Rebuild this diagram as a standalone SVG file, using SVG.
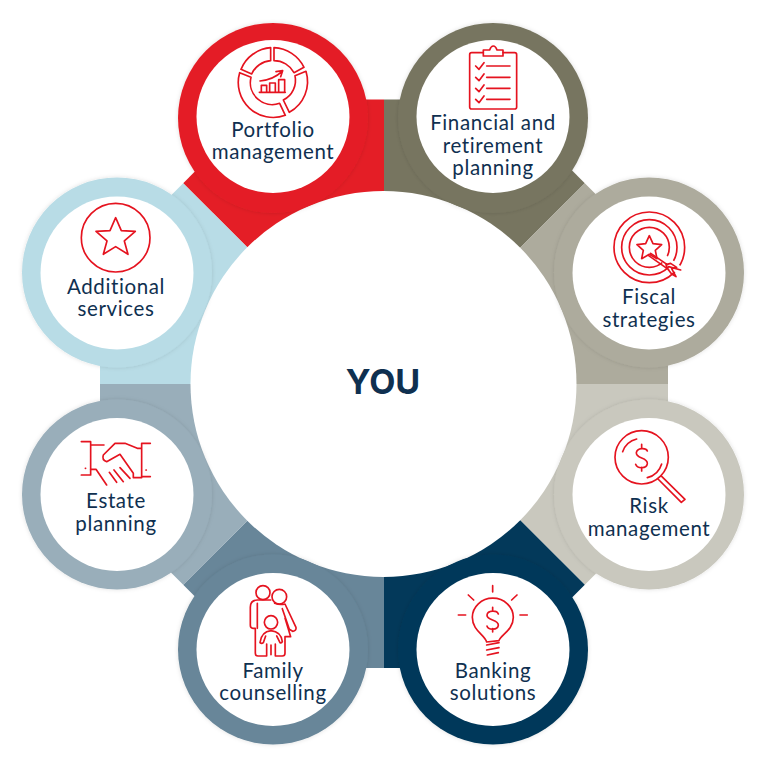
<svg xmlns="http://www.w3.org/2000/svg" width="766" height="767" viewBox="0 0 766 767">
<style>
.lbl{font-family:"Lato","Noto Sans",sans-serif;font-size:20.5px;font-weight:400;fill:#0f3050;text-anchor:middle;letter-spacing:.62px}
.ico{fill:none;stroke:#e5131f;stroke-width:5;stroke-linejoin:round;stroke-linecap:round}
.inner{fill:#fff}
</style>
<defs>
<filter id="sh" x="-10%" y="-10%" width="120%" height="120%"><feDropShadow dx="0" dy="0" stdDeviation="2" flood-color="#000" flood-opacity=".13"/></filter>
</defs>
<rect width="766" height="767" fill="#fff"/>
<g id="connectors">
<polygon fill="#e41e26" points="384,384 384,99.5 266.4,99.5 183.2,183.2"/>
<polygon fill="#777560" points="384,384 384,99.5 501.6,99.5 584.8,183.2"/>
<polygon fill="#adab9d" points="384,384 584.8,183.2 668,266.4 668,384"/>
<polygon fill="#c9c8be" points="384,384 668,384 668,501.6 584.8,584.8"/>
<polygon fill="#03395a" points="384,384 584.8,584.8 501.6,668 384,668"/>
<polygon fill="#688699" points="384,384 183.2,584.8 266.4,668 384,668"/>
<polygon fill="#99aeba" points="384,384 100,384 100,501.6 183.2,584.8"/>
<polygon fill="#b8dce6" points="384,384 100,384 100,266.4 183.2,183.2"/>
</g>
<g id="center"><circle cx="383.5" cy="384" r="193" fill="#fff"/>
<text x="383" y="394" font-family="Inter,'Liberation Sans',sans-serif" font-weight="700" font-size="34" fill="#0f3050" text-anchor="middle">YOU</text></g>

<g id="portfolio">
<circle cx="273" cy="118" r="95" fill="#e41e26" filter="url(#sh)"/><circle class="inner" cx="273" cy="116.5" r="76.5"/>
<g class="ico" transform="translate(170 10) scale(.3333)">
<path d="M312 113A105 105 0 0 1 402 172L372 188A68 68 0 0 0 312 152Z"/>
<path d="M408 184A105 105 0 0 1 358 307L340 270A66 66 0 0 0 375 197Z"/>
<path d="M302 113A105 105 0 0 0 213 178L245 192A68 68 0 0 1 302 152Z"/>
<path d="M209 188A105 105 0 0 0 346 316L329 280A66 66 0 0 1 243 202Z"/>
<path d="M268 247H346M274 247V226H290V247M299 247V219H316V247M326 247V209H344V247M270 213C295 210 318 202 336 184M318 185L338 182L332 200"/>
</g>
<text class="lbl" x="273" y="137">Portfolio</text><text class="lbl" x="273" y="159">management</text>
</g>

<g id="financial">
<circle cx="493" cy="118" r="95" fill="#777560" filter="url(#sh)"/><circle class="inner" cx="493" cy="116.5" r="76.5"/>
<g class="ico" transform="translate(385 10) scale(.3333)">
<path d="M295 128H260Q254 128 254 134V291Q254 297 260 297H389Q395 297 395 291V134Q395 128 389 128H354"/>
<path d="M295 120H314Q318 108 325 108Q332 108 336 120H354V138H295Z"/>
<path d="M272 168L282 178L297 158M305 168H375M272 202L282 212L297 192M305 202H375M272 235L282 245L297 225M305 235H375M272 268L282 278L297 258M305 268H375"/>
</g>
<text class="lbl" x="493" y="130">Financial and</text><text class="lbl" x="493" y="153">retirement</text><text class="lbl" x="493" y="175">planning</text>
</g>

<g id="fiscal">
<circle cx="649" cy="272.5" r="95" fill="#adab9d" filter="url(#sh)"/><circle class="inner" cx="649" cy="273" r="76.5"/>
<g class="ico" transform="translate(520 170) scale(.3333)">
<circle cx="388" cy="232" r="106"/><circle cx="388" cy="232" r="83"/><circle cx="388" cy="232" r="60"/>
<path d="M430 265L490 310" stroke="#fff" stroke-width="24"/>
<path d="M388 197L399 221L425 224L406 241L411 266L388 253L365 266L370 241L351 224L377 221Z"/>
<path d="M392 250L442 284M386 257L446 299M438 284L452 280L470 292L455 296L468 320L455 312L444 298Z"/>
<path d="M446 290L482 300"/>
</g>
<text class="lbl" x="649" y="304">Fiscal</text><text class="lbl" x="649" y="327">strategies</text>
</g>

<g id="risk">
<circle cx="649" cy="494.5" r="95" fill="#c9c8be" filter="url(#sh)"/><circle class="inner" cx="649" cy="494.5" r="76.5"/>
<g class="ico" transform="translate(520 385) scale(.3333)">
<circle cx="365" cy="217" r="80"/>
<path d="M308 200A60 60 0 0 1 350 162M425 237A60 60 0 0 1 382 278"/>
<path d="M382 198C378 188 352 188 349 203C347 222 384 216 382 236C380 252 352 252 347 238M365 178V190M365 247V258"/>
<path d="M414 282L484 352M425 274L495 343M484 352L495 343"/>
</g>
<text class="lbl" x="649" y="513">Risk</text><text class="lbl" x="649" y="536">management</text>
</g>

<g id="banking">
<circle cx="493" cy="649.5" r="95" fill="#03395a" filter="url(#sh)"/><circle class="inner" cx="493" cy="649.5" r="76.5"/>
<g class="ico" transform="translate(385 520) scale(.3333)">
<path d="M323 197V216M250 225L266 240M396 225L380 240M220 285H242M405 285H427"/>
<path d="M305 366C300 345 262 332 262 292A61 57 0 0 1 385 292C385 332 345 345 342 362Z"/>
<path d="M340 282C336 270 308 270 306 285C305 303 341 297 340 316C338 331 310 331 306 318M323 262V272M323 326V336"/>
<path d="M305 375L342 368M305 390L342 383M307 405L340 398"/>
</g>
<text class="lbl" x="493" y="678">Banking</text><text class="lbl" x="493" y="700">solutions</text>
</g>

<g id="family">
<circle cx="273" cy="649.5" r="95" fill="#688699" filter="url(#sh)"/><circle class="inner" cx="273" cy="649.5" r="76.5"/>
<g class="ico" transform="translate(170 520) scale(.3333)">
<circle cx="279" cy="218" r="21"/><circle cx="328" cy="230" r="22"/><circle cx="303" cy="307" r="20"/>
<path d="M302 240H262Q241 240 241 262V316Q241 325 249 325H256M262 250V325M256 325V400Q256 408 264 408H290V372"/>
<path d="M314 250Q330 256 345 252L378 322Q380 332 368 334L358 328L337 266M345 294L362 350H345V400Q345 408 337 408H316V372"/>
<path d="M270 368Q274 335 303 332Q333 335 337 365Q335 370 330 368L320 348M287 348L280 368Q275 372 270 368M303 375V404"/>
</g>
<text class="lbl" x="273" y="678">Family</text><text class="lbl" x="273" y="700">counselling</text>
</g>

<g id="estate">
<circle cx="117" cy="494.5" r="95" fill="#99aeba" filter="url(#sh)"/><circle class="inner" cx="117" cy="494.5" r="76.5"/>
<g class="ico" transform="translate(10 385) scale(.3333)">
<path d="M214 170H242V270H214M242 180H282M421 175H395V275H421M395 190H382L345 175H315L280 210Q275 225 290 230L330 208L370 265V278H395"/>
<path d="M242 253H258L290 300M298 262L320 292M312 255L340 290M330 248L360 280"/>
<path d="M226 250H227M408 255H409"/>
</g>
<text class="lbl" x="116" y="508">Estate</text><text class="lbl" x="116" y="531">planning</text>
</g>

<g id="additional">
<circle cx="117" cy="272.5" r="95" fill="#b8dce6" filter="url(#sh)"/><circle class="inner" cx="117" cy="273" r="76.5"/>
<g class="ico" transform="translate(10 170) scale(.3333)">
<circle cx="317" cy="203" r="103"/>
<path d="M317 143L334 182L376 184L343 213L354 253L317 230L280 253L291 213L258 184L300 182Z"/>
</g>
<text class="lbl" x="116" y="294">Additional</text><text class="lbl" x="116" y="316">services</text>
</g>
</svg>
